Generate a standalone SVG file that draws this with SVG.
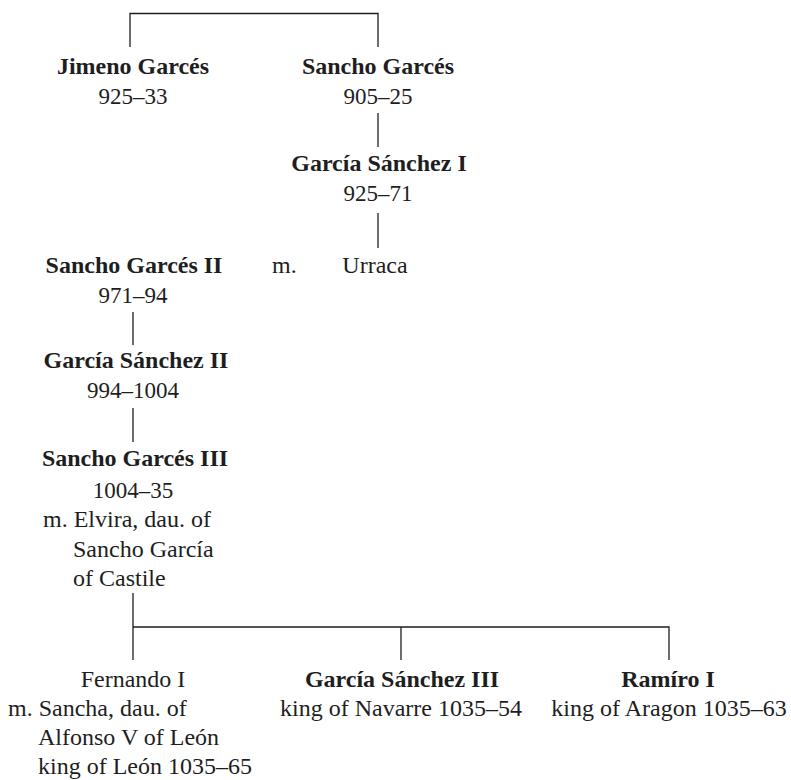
<svg xmlns="http://www.w3.org/2000/svg" width="791" height="780" viewBox="0 0 791 780">
<style>
text{font-family:"Liberation Serif","Times New Roman",serif;fill:#1e1e1e;font-size:24px}
.b{font-weight:bold}
.c{text-anchor:middle}
.d{font-size:23px}
.ln{stroke:#1e1e1e;stroke-width:1.3;fill:none}
</style>
<rect width="791" height="780" fill="#fff"/>
<g id="connectors">
<path class="ln" d="M130,47V13.5H378V47"/>
<path class="ln" d="M378,113V147"/>
<path class="ln" d="M378,213V248"/>
<path class="ln" d="M133,312V345"/>
<path class="ln" d="M133,408V442"/>
<path class="ln" d="M133,593V660"/>
<path class="ln" d="M133,627H669V660"/>
<path class="ln" d="M401,627V660"/>
</g>
<g id="jimeno">
<text class="b c" x="133" y="74">Jimeno Garcés</text>
<text class="c d" x="133" y="104">925–33</text>
</g>
<g id="sancho1">
<text class="b c" x="378" y="74">Sancho Garcés</text>
<text class="c d" x="378" y="104">905–25</text>
</g>
<g id="garcia1">
<text class="b c" x="379" y="171">García Sánchez I</text>
<text class="c d" x="378" y="201">925–71</text>
</g>
<g id="sancho2">
<text class="b c" x="134" y="273">Sancho Garcés II</text>
<text class="c d" x="133" y="303">971–94</text>
</g>
<g id="marriage">
<text x="272" y="273">m.</text>
</g>
<g id="urraca">
<text class="c" x="375" y="273">Urraca</text>
</g>
<g id="garcia2">
<text class="b c" x="136" y="368">García Sánchez II</text>
<text class="c d" x="133" y="398">994–1004</text>
</g>
<g id="sancho3">
<text class="b c" x="135" y="466">Sancho Garcés III</text>
<text class="c d" x="133" y="498">1004–35</text>
<text x="43" y="527">m. Elvira, dau. of</text>
<text x="73" y="557">Sancho García</text>
<text x="73" y="586">of Castile</text>
</g>
<g id="fernando">
<text class="c" x="133" y="687">Fernando I</text>
<text x="8" y="716">m. Sancha, dau. of</text>
<text x="38" y="745">Alfonso V of León</text>
<text x="38" y="774">king of León 1035–65</text>
</g>
<g id="garcia3">
<text class="b c" x="402" y="687">García Sánchez III</text>
<text class="c" x="401" y="716">king of Navarre 1035–54</text>
</g>
<g id="ramiro">
<text class="b c" x="668" y="687">Ramíro I</text>
<text class="c" x="669" y="716">king of Aragon 1035–63</text>
</g>
</svg>
